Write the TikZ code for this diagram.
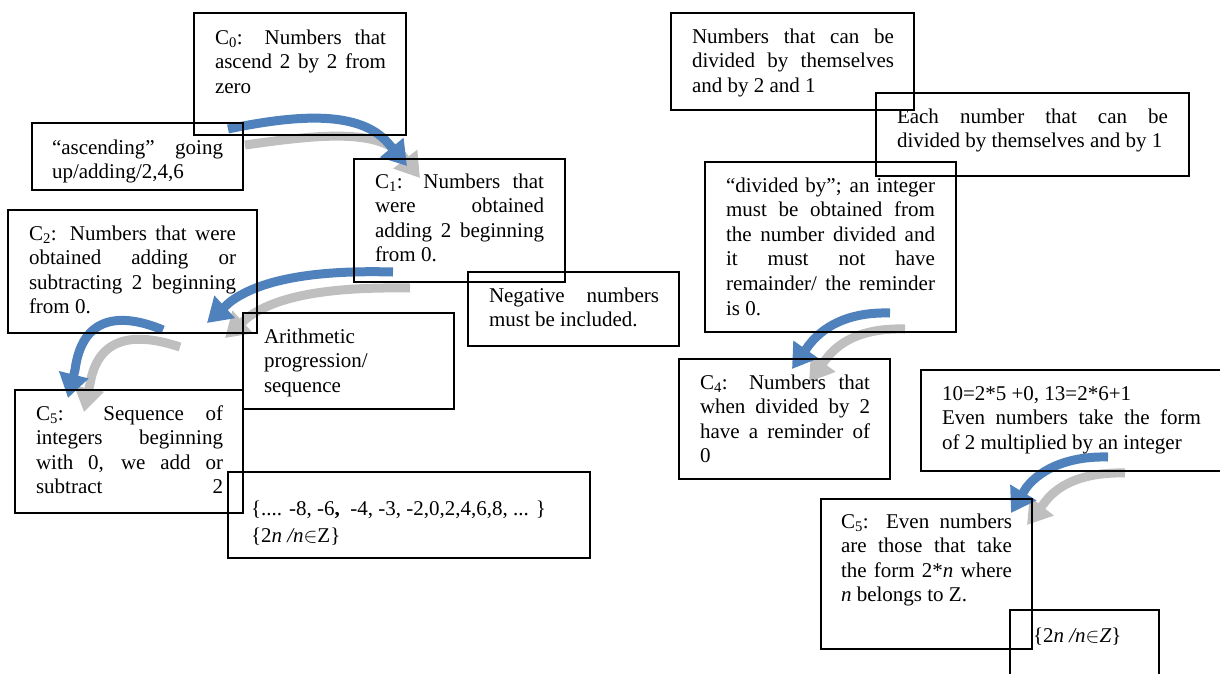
\documentclass[tikz,border=0pt]{standalone}
\usepackage{fontspec}
\setmainfont{Liberation Serif}
\usetikzlibrary{arrows.meta}
\setlength{\parindent}{0pt}
\newcommand\jl[1]{\makebox[\linewidth][s]{#1}}
\definecolor{arrblue}{HTML}{4F81BD}
\definecolor{arrgray}{HTML}{BFBFBF}
\tikzset{
  boxnode/.style={draw=black, line width=1.6pt, inner sep=0pt, outer sep=0pt, anchor=north west},
  txt/.style={anchor=base west, inner sep=0pt, outer sep=0pt, font=\fontsize{21}{24.6}\selectfont},
  bluearr/.style={draw=arrblue, line width=9pt, line join=round, -{Triangle[width=29pt,length=24pt]}},
  grayarr/.style={draw=arrgray, line width=9pt, line join=round, -{Triangle[width=29pt,length=24pt]}}
}
\begin{document}
\begin{tikzpicture}[x=1pt,y=-1pt]
\path[use as bounding box] (0,0) rectangle (1220,673);
\clip (0,0) rectangle (1220,673);

% ---------- arrow end points ----------
\coordinate (g1s) at (245,145); \coordinate (g1b) at (402,155); \coordinate (g1e) at (420,178);
\coordinate (b1s) at (228,129); \coordinate (b1b) at (388,143); \coordinate (b1e) at (407,166);
\coordinate (g2s) at (410,288); \coordinate (g2b) at (247,318); \coordinate (g2e) at (225,338);
\coordinate (b2s) at (393,272); \coordinate (b2b) at (230,302); \coordinate (b2e) at (207,323);
\coordinate (g3s) at (180,347); \coordinate (g3b) at (90,384);  \coordinate (g3e) at (84,412);
\coordinate (b3s) at (163,330); \coordinate (b3b) at (75,370);  \coordinate (b3e) at (68,398);
\coordinate (g4s) at (905,329); \coordinate (g4b) at (826,359); \coordinate (g4e) at (809,382);
\coordinate (b4s) at (890,313); \coordinate (b4b) at (809,345); \coordinate (b4e) at (792,369);
\coordinate (g5s) at (1125,473); \coordinate (g5b) at (1045,502); \coordinate (g5e) at (1027,525);
\coordinate (b5s) at (1108,457); \coordinate (b5b) at (1026,488); \coordinate (b5e) at (1011,513);

% ---------- gray arrows ----------
\draw[grayarr] (g1s) .. controls (310,136) and (376,127) .. (g1b) -- (g1e);
\draw[grayarr] (g2s) .. controls (340,287) and (280,293) .. (g2b) -- (g2e);
\draw[grayarr] (g3s) .. controls (135,332) and (98,336) .. (g3b) -- (g3e);
\draw[grayarr] (g4s) .. controls (868,328) and (842,338) .. (g4b) -- (g4e);
\draw[grayarr] (g5s) .. controls (1088,472) and (1060,482) .. (g5b) -- (g5e);

% ---------- blue arrows ----------
\draw[bluearr] (b1s) .. controls (300,114) and (360,111) .. (b1b) -- (b1e);
\draw[bluearr] (b2s) .. controls (320,270) and (262,278) .. (b2b) -- (b2e);
\draw[bluearr] (b3s) .. controls (120,312) and (82,316) .. (b3b) -- (b3e);
\draw[bluearr] (b4s) .. controls (855,312) and (827,322) .. (b4b) -- (b4e);
\draw[bluearr] (b5s) .. controls (1072,456) and (1042,467) .. (b5b) -- (b5e);

% ---------- boxes ----------
\node[boxnode, minimum width=212pt, minimum height=122pt] (b0)    at (194,13) {};
\node[boxnode, minimum width=211pt, minimum height=67pt]  (basc)  at (32,123) {};
\node[boxnode, minimum width=211pt, minimum height=123pt] (bc1)   at (354,159) {};
\node[boxnode, minimum width=249pt, minimum height=123pt] (bc2)   at (8,210) {};
\node[boxnode, minimum width=211pt, minimum height=74pt]  (bneg)  at (468,272) {};
\node[boxnode, minimum width=211pt, minimum height=96pt]  (bari)  at (243,313) {};
\node[boxnode, minimum width=228pt, minimum height=123pt] (bc5l)  at (15,390) {};
\node[boxnode, minimum width=362pt, minimum height=86pt]  (bset)  at (228,472) {};
\node[boxnode, minimum width=243pt, minimum height=97pt]  (bnum)  at (671,13) {};
\node[boxnode, minimum width=313pt, minimum height=83pt]  (beach) at (876,93) {};
\node[boxnode, minimum width=251pt, minimum height=170pt] (bdiv)  at (705,162) {};
\node[boxnode, minimum width=211pt, minimum height=120pt] (bc4)   at (679,359) {};
\node[boxnode, minimum width=319pt, minimum height=101pt] (bten)  at (921,370) {};
\node[boxnode, minimum width=211pt, minimum height=150pt] (bc5r)  at (821,499) {};
\node[boxnode, minimum width=149pt, minimum height=80pt]  (bsm)   at (1010,610) {};

% ---------- texts ----------
\node[txt] (t0) at (215,44) {\parbox[t]{171pt}{\jl{C\textsubscript{0}: Numbers that}\\\jl{ascend 2 by 2 from}\\zero}};
\node[txt] (tasc) at (52,154) {\parbox[t]{171pt}{\jl{“ascending” going}\\up/adding/2,4,6}};
\node[txt] (t1) at (375,188) {\parbox[t]{169pt}{\jl{C\textsubscript{1}: Numbers that}\\\jl{were obtained}\\\jl{adding 2 beginning}\\from 0.}};
\node[txt] (t2) at (29,240) {\parbox[t]{207pt}{\jl{C\textsubscript{2}: Numbers that were}\\\jl{obtained adding or}\\\jl{subtracting 2 beginning}\\from 0.}};
\node[txt] (tneg) at (489,302) {\parbox[t]{170pt}{\jl{Negative numbers}\\must be included.}};
\node[txt] (tari) at (264,343) {\parbox[t]{180pt}{Arithmetic\\progression/\\sequence}};
\node[txt] (t5l) at (36,420) {\parbox[t]{187pt}{\jl{C\textsubscript{5}: Sequence of}\\\jl{integers beginning}\\\jl{with 0, we add or}\\\jl{subtract 2}}};
\node[txt] (tset) at (251,515) {\parbox[t]{330pt}{\{.... -8, -6\textbf{,} ~-4, -3, -2,0,2,4,6,8, ... \}\\[3pt]\{2\textit{n} \textit{/n}$\in$Z\}}};
\node[txt] (tnum) at (692,43) {\parbox[t]{202pt}{\jl{Numbers that can be}\\\jl{divided by themselves}\\and by 2 and 1}};
\node[txt] (teach) at (897,123) {\parbox[t]{271pt}{\jl{Each number that can be}\\divided by themselves and by 1}};
\node[txt] (tdiv) at (726,192) {\parbox[t]{209pt}{\jl{“divided by”; an integer}\\\jl{must be obtained from}\\\jl{the number divided and}\\\jl{it must not have}\\\jl{remainder/ the reminder}\\is 0.}};
\node[txt] (t4) at (700,389) {\parbox[t]{170pt}{\jl{C\textsubscript{4}: Numbers that}\\\jl{when divided by 2}\\\jl{have a reminder of}\\0}};
\node[txt] (tten) at (942,400) {\parbox[t]{259pt}{10=2*5 +0, 13=2*6+1\\\jl{Even numbers take the form}\\of 2 multiplied by an integer}};
\node[txt] (t5r) at (841,528) {\parbox[t]{171pt}{\jl{C\textsubscript{5}: Even numbers}\\\jl{are those that take}\\\jl{the form 2*\textit{n} where}\\\textit{n} belongs to Z.}};
\node[txt] (tsm) at (1033,642) {\{2\textit{n} \textit{/n}$\in$\textit{Z}\}};
\end{tikzpicture}
\end{document}
